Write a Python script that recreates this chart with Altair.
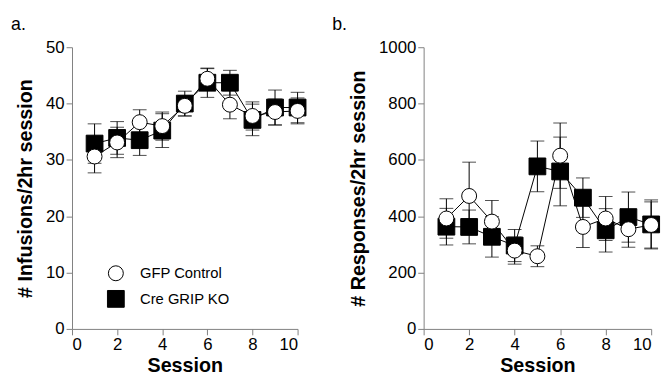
import altair as alt
import pandas as pd

sessions = [1, 2, 3, 4, 5, 6, 7, 8, 9, 10]
groups = ["GFP Control", "Cre GRIP KO"]

gfp_inf = [30.6, 33.1, 36.7, 36.0, 39.6, 44.4, 39.8, 37.8, 38.5, 38.7]
gfp_inf_err = [2.9, 2.7, 2.2, 2.5, 1.8, 1.8, 2.5, 2.5, 2.3, 2.3]
ko_inf = [32.9, 33.9, 33.5, 35.2, 40.0, 43.7, 43.7, 37.1, 39.3, 39.3]
ko_inf_err = [3.5, 2.9, 2.7, 3.0, 2.2, 2.6, 2.2, 2.8, 3.1, 2.7]

gfp_resp = [392, 472, 381, 278, 258, 615, 362, 392, 354, 369]
gfp_resp_err = [70, 120, 75, 48, 37, 116, 73, 78, 64, 82]
ko_resp = [363, 362, 327, 296, 577, 559, 466, 350, 397, 371]
ko_resp_err = [65, 60, 72, 57, 90, 122, 70, 77, 89, 87]

FONT = "Liberation Sans"


def make_df(gfp, gfp_err, ko, ko_err):
    rows = []
    # KO first so GFP circles draw on top
    for g, vals, errs in [(groups[1], ko, ko_err), (groups[0], gfp, gfp_err)]:
        for s, v, e in zip(sessions, vals, errs):
            rows.append({"Session": s, "value": v, "lo": v - e, "hi": v + e, "group": g})
    return pd.DataFrame(rows)


def panel(df, ymax, ystep, ytitle, letter, show_legend, w, tdx):
    x = alt.X("Session:Q", scale=alt.Scale(domain=[0, 10], nice=False),
              axis=alt.Axis(values=list(range(0, 11, 2)), title="Session", titlePadding=3))
    yscale = alt.Scale(domain=[0, ymax], nice=False)
    yaxis = alt.Axis(values=list(range(0, ymax + 1, ystep)), title=ytitle, format="d",
                     titlePadding=10)
    base = alt.Chart(df)
    lines = base.mark_line(color="black", strokeWidth=1).encode(
        x=x, y=alt.Y("value:Q", scale=yscale, axis=yaxis), detail="group:N")
    rules = base.mark_rule(color="black", strokeWidth=1).encode(
        x="Session:Q", y="lo:Q", y2="hi:Q")
    cap_lo = base.mark_tick(color="black", orient="horizontal", size=14, thickness=1).encode(
        x="Session:Q", y="lo:Q")
    cap_hi = base.mark_tick(color="black", orient="horizontal", size=14, thickness=1).encode(
        x="Session:Q", y="hi:Q")
    if show_legend:
        leg = alt.Legend(title=None, orient="none", legendX=35, legendY=221, padding=0,
                         labelFontSize=15, labelFont=FONT, labelColor="black",
                         symbolStrokeWidth=1, rowPadding=4, labelOffset=15)
    else:
        leg = None
    pts = base.mark_point(filled=True, strokeWidth=1, opacity=1).encode(
        x="Session:Q",
        y="value:Q",
        shape=alt.Shape("group:N", scale=alt.Scale(domain=groups, range=["circle", "square"]), legend=leg),
        fill=alt.Fill("group:N", scale=alt.Scale(domain=groups, range=["white", "black"]), legend=leg),
        stroke=alt.Stroke("group:N", scale=alt.Scale(domain=groups, range=["black", "black"]), legend=leg),
        size=alt.Size("group:N", scale=alt.Scale(domain=groups, range=[230, 290]), legend=leg),
    )
    return alt.layer(lines, rules, cap_lo, cap_hi, pts).properties(
        width=w, height=286,
        title=alt.TitleParams(letter, anchor="start", fontSize=18, fontWeight="normal",
                              font=FONT, color="black", offset=5, dx=tdx),
    )


a = panel(make_df(gfp_inf, gfp_inf_err, ko_inf, ko_inf_err), 50, 10,
          "# Infusions/2hr session", "a.", True, 229, -5)
b = panel(make_df(gfp_resp, gfp_resp_err, ko_resp, ko_resp_err), 1000, 200,
          "# Responses/2hr session", "b.", False, 231, -17)

chart = alt.hconcat(a, b, spacing=24).resolve_scale(
    shape="independent", fill="independent", size="independent", stroke="independent"
).resolve_legend(shape="independent", fill="independent", size="independent",
                 stroke="independent").configure_view(
    stroke=None
).configure_axis(
    grid=False, domainColor="#808080", tickColor="#808080", tickSize=6,
    labelFont=FONT, labelFontSize=17, labelColor="black", labelPadding=2,
    titleFont=FONT, titleFontSize=20, titleFontWeight="bold", titleColor="black",
).properties(padding={"left": 3, "top": 5, "right": 0, "bottom": 0})

chart.save("out.html", embed_options={"renderer": "svg", "actions": False})
